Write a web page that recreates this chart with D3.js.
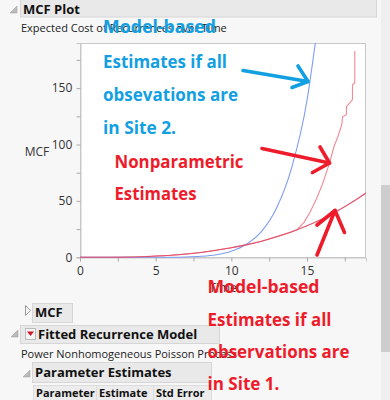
<!DOCTYPE html>
<html lang="en">
<head>
<meta charset="UTF-8">
<title>MCF Plot</title>
<style>
  body { margin: 0; background: #f7f7f7; }
  svg { display: block; font-family: "Open Sans", "Noto Sans", sans-serif; }
</style>
</head>
<body>
<script src="https://cdn.jsdelivr.net/npm/d3@7"></script>
<script>
// data
const xTicks = [0, 5, 10, 15];
const yTicks = [0, 50, 100, 150];

// model-based, all observations in site 2 (blue)
const timeSite2 = [0, 2, 4, 6, 7, 8, 9, 10, 11, 12, 13, 14, 15, 15.6];
const mcfSite2 = [0, 0, 0.02, 0.1, 0.3, 0.9, 2.3, 5.4, 11.6, 23, 44, 80, 139, 195];

// model-based, all observations in site 1 (red)
const timeSite1 = [0, 2, 4, 6, 8, 10, 11, 12, 13, 14, 15, 16, 17, 18, 18.9];
const mcfSite1 = [0, 0.07, 0.5, 1.8, 4.3, 8.4, 11, 14.3, 18.2, 22.7, 28, 34, 41, 49, 57];

// nonparametric estimates (pink)
const timeNP = [0, 2, 4, 6, 8, 10, 12, 14, 14.35, 14.8, 15.2, 15.6, 16.0, 16.5, 16.78, 17.04, 17.3, 17.35, 17.6, 17.61, 18.0, 18.01, 18.16, 18.16];
const mcfNP = [0, 0.07, 0.5, 1.8, 4.3, 8.4, 14.3, 22.7, 24.5, 31, 40, 51, 64, 84, 98, 107, 117.5, 124.6, 126.4, 133.5, 139.7, 153, 154.8, 183];

const width = 390, height = 400;
const svg = d3.select('body').append('svg')
  .attr('width', width)
  .attr('height', height);

// ---- report chrome (JMP style outline boxes) ----
svg.append('rect').attr('x', 0).attr('y', 0).attr('width', width).attr('height', height).attr('fill', '#f7f7f7');

// scrollbar on the right
svg.append('rect').attr('x', 381).attr('y', 0).attr('width', 9).attr('height', height).attr('fill', '#efefef');
svg.append('rect').attr('x', 381).attr('y', 185).attr('width', 9).attr('height', 167).attr('fill', '#cdcdcd');

function outlineBox(x, y, w, h, label, size, base) {
  svg.append('rect').attr('x', x + 0.5).attr('y', y + 0.5).attr('width', w).attr('height', h)
    .attr('fill', '#e9e9e9').attr('stroke', '#d6d6d6');
  svg.append('text').attr('x', x + 3).attr('y', base)
    .attr('font-size', size).attr('font-weight', 'bold').attr('fill', '#111')
    .text(label);
}
function openTri(x, y) {
  svg.append('path').attr('d', `M${x},${y} L${x + 7},${y - 7} L${x + 7},${y} Z`)
    .attr('fill', '#bbb').attr('stroke', '#999').attr('stroke-width', 0.5);
}

outlineBox(20, -4, 356, 20.5, 'MCF Plot', 13, 13.5);
openTri(10, 13);
svg.append('text').attr('x', 21).attr('y', 32).attr('font-size', 11).attr('fill', '#222')
  .text('Expected Cost of Recurrences over Time');

// closed outline "MCF"
outlineBox(32, 303, 40, 19, 'MCF', 13, 316.5);
svg.append('path').attr('d', 'M25.5,305.5 L30.5,310.5 L25.5,315.5 Z').attr('fill', 'none').attr('stroke', '#999');

// fitted recurrence model
outlineBox(20, 325, 199, 18, '', 13, 338);
openTri(11, 337);
svg.append('rect').attr('x', 25.5).attr('y', 328.5).attr('width', 10).attr('height', 11)
  .attr('fill', '#f4f4f4').attr('stroke', '#bbb');
svg.append('path').attr('d', 'M27,331.5 L34,331.5 L30.5,336 Z').attr('fill', '#d0142c');
svg.append('text').attr('x', 38).attr('y', 338.5).attr('font-size', 13).attr('font-weight', 'bold')
  .attr('fill', '#111').text('Fitted Recurrence Model');
svg.append('text').attr('x', 21).attr('y', 357.5).attr('font-size', 11).attr('fill', '#222')
  .text('Power Nonhomogeneous Poisson Process');

outlineBox(32, 362, 179, 20, 'Parameter Estimates', 13, 377);
openTri(23, 377);

// table header
const cols = [[33, 63, 'Parameter'], [96, 57, 'Estimate'], [153, 58, 'Std Error']];
cols.forEach(c => {
  svg.append('rect').attr('x', c[0] + 0.5).attr('y', 385.5).attr('width', c[1]).attr('height', 18)
    .attr('fill', '#ececec').attr('stroke', '#dcdcdc');
  svg.append('text').attr('x', c[0] + 3).attr('y', 396.5).attr('font-size', 11).attr('font-weight', 'bold')
    .attr('fill', '#111').text(c[2]);
});

// ---- the plot ----
const x = d3.scaleLinear().domain([0, 18.9]).range([80, 366]);
const y = d3.scaleLinear().domain([0, 190]).range([257.3, 43]);

svg.append('rect').attr('x', 80.5).attr('y', 43.5).attr('width', 285).attr('height', 214)
  .attr('fill', '#fff').attr('stroke', '#c8c8c8');

svg.append('clipPath').attr('id', 'clip')
  .append('rect').attr('x', 80).attr('y', 43).attr('width', 286).attr('height', 215);

const xAxis = svg.append('g').attr('transform', 'translate(0,257.5)')
  .call(d3.axisBottom(x).tickValues(d3.range(0, 18.9, 2.5)).tickSize(4)
    .tickFormat(d => xTicks.includes(d) ? d : ''));
const yAxis = svg.append('g').attr('transform', 'translate(80.5,0)')
  .call(d3.axisLeft(y).tickValues(d3.range(0, 190, 25)).tickSize(4)
    .tickFormat(d => yTicks.includes(d) ? d : ''));
[xAxis, yAxis].forEach(g => {
  g.select('.domain').attr('stroke', '#c8c8c8');
  g.selectAll('.tick line').attr('stroke', '#aaa');
  g.selectAll('.tick text').attr('fill', '#333').attr('font-size', 12)
    .attr('font-family', '"Open Sans", sans-serif');
});
xAxis.selectAll('.tick text').attr('dy', '0.9em');
yAxis.selectAll('.tick text').attr('dx', '-0.1em');

svg.append('text').attr('x', 223).attr('y', 292).attr('text-anchor', 'middle')
  .attr('font-size', 12).attr('fill', '#333').text('Time');
svg.append('text').attr('x', 37).attr('y', 156).attr('text-anchor', 'middle')
  .attr('font-size', 12).attr('fill', '#333').text('MCF');

const line = d3.line().x(d => x(d[0])).y(d => y(d[1])).curve(d3.curveMonotoneX);
const lineLin = d3.line().x(d => x(d[0])).y(d => y(d[1]));
const plot = svg.append('g').attr('clip-path', 'url(#clip)');

plot.append('path').datum(d3.zip(timeNP, mcfNP)).attr('d', lineLin)
  .attr('fill', 'none').attr('stroke', '#f28894').attr('stroke-width', 1.1);
plot.append('path').datum(d3.zip(timeSite2, mcfSite2)).attr('d', line)
  .attr('fill', 'none').attr('stroke', '#7f9cf2').attr('stroke-width', 1.1);
plot.append('path').datum(d3.zip(timeSite1, mcfSite1)).attr('d', line)
  .attr('fill', 'none').attr('stroke', '#e0506a').attr('stroke-width', 1.1);

// ---- annotations ----
const blue = '#12a0e2', red = '#ee1c2a';
function note(lines, x0, color) {
  lines.forEach(l => {
    svg.append('text').attr('x', x0).attr('y', l[1])
      .attr('font-size', 17.5).attr('font-weight', 'bold').attr('fill', color)
      .attr('textLength', l[2]).attr('lengthAdjust', 'spacingAndGlyphs')
      .text(l[0]);
  });
}
note([['Model-based', 33, 113], ['Estimates if all', 67.5, 124], ['obsevations are', 100.5, 135], ['in Site 2.', 133.5, 73]], 103, blue);
note([['Nonparametric', 167.5, 129], ['Estimates', 200, 82]], 114.5, red);
note([['Model-based', 292.5, 112], ['Estimates if all', 326, 124], ['observations are', 358, 142], ['in Site 1.', 390, 72]], 207.5, red);

function arrow(from, tip, b1, b2, color) {
  const g = svg.append('g').attr('stroke', color).attr('stroke-width', 3.6)
    .attr('stroke-linecap', 'round').attr('fill', 'none');
  g.append('line').attr('x1', from[0]).attr('y1', from[1]).attr('x2', tip[0]).attr('y2', tip[1]);
  g.append('path').attr('d', `M${b1[0]},${b1[1]} L${tip[0]},${tip[1]} L${b2[0]},${b2[1]}`)
    .attr('stroke-linejoin', 'round');
}
arrow([243, 70.5], [308, 81.5], [298, 66], [292, 87.5], blue);
arrow([262, 148.5], [329.5, 163], [320, 147], [312.5, 172.5], red);
arrow([317, 255], [335, 210.5], [317, 225], [344.5, 232.5], red);
</script>
</body>
</html>
